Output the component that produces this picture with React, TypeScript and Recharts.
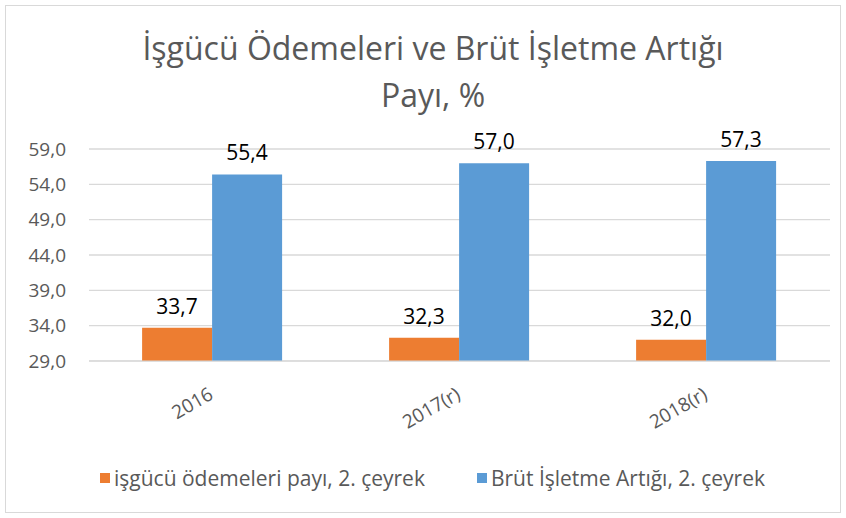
import React from "react";
import {
  BarChart,
  Bar,
  XAxis,
  YAxis,
  CartesianGrid,
  LabelList,
} from "recharts";

const categories = ["2016", "2017(r)", "2018(r)"];
const laborShare = [33.7, 32.3, 32.0];
const surplusShare = [55.4, 57.0, 57.3];
const yTicks = [29, 34, 39, 44, 49, 54, 59];

const SERIES = [
  { key: "labor", name: "işgücü ödemeleri payı, 2. çeyrek", color: "#ED7D31" },
  { key: "surplus", name: "Brüt İşletme Artığı, 2. çeyrek", color: "#5B9BD5" },
];

const FONT = "'Open Sans', 'Noto Sans', sans-serif";
const fmt = (v: number) => v.toFixed(1).replace(".", ",");

const data = categories.map((c, i) => ({
  name: c,
  labor: laborShare[i],
  surplus: surplusShare[i],
}));

function XTick({ x, y, payload }: any) {
  const ax = x + 2;
  const ay = y + 29;
  return (
    <text
      x={ax}
      y={ay}
      transform={`rotate(-30, ${ax}, ${ay})`}
      textAnchor="end"
      fontSize={19}
      fontFamily={FONT}
      fill="#595959"
    >
      {payload.value}
    </text>
  );
}

function LegendBox() {
  return (
    <div
      style={{
        position: "absolute",
        left: 100,
        top: 464,
        display: "flex",
        gap: 52,
        fontFamily: FONT,
        fontSize: 21,
        lineHeight: "28px",
        color: "#595959",
        whiteSpace: "nowrap",
      }}
    >
      {SERIES.map((s) => (
        <div key={s.key} style={{ display: "flex", alignItems: "center" }}>
          <span style={{ width: 10, height: 10, background: s.color, marginRight: 4 }} />
          <span>{s.name}</span>
        </div>
      ))}
    </div>
  );
}

export default function App() {
  return (
    <div
      style={{
        position: "absolute",
        left: 0,
        top: 0,
        width: 846,
        height: 518,
        background: "#fff",
      }}
    >
      <div
        style={{
          position: "absolute",
          left: 5,
          top: 5,
          width: 836,
          height: 508,
          border: "1.5px solid #D9D9D9",
          boxSizing: "border-box",
        }}
      />
      <div
        style={{
          position: "absolute",
          left: 0,
          top: 24,
          width: 866,
          textAlign: "center",
          fontFamily: FONT,
          fontSize: 32,
          lineHeight: "47px",
          color: "#595959",
        }}
      >
        İşgücü Ödemeleri ve Brüt İşletme Artığı
        <br />
        Payı, %
      </div>
      <div style={{ position: "absolute", left: 0, top: 0 }}>
        <BarChart
          width={846}
          height={518}
          data={data}
          margin={{ top: 149, right: 16, left: 0, bottom: 0 }}
          barCategoryGap="21.5%"
          barGap={0}
        >
          <CartesianGrid vertical={false} stroke="#D9D9D9" strokeWidth={1.3} />
          <XAxis
            dataKey="name"
            axisLine={{ stroke: "#D9D9D9" }}
            tickLine={false}
            height={157}
            tick={<XTick />}
            interval={0}
          />
          <YAxis
            domain={[29, 59]}
            ticks={yTicks}
            width={89}
            axisLine={false}
            tickLine={false}
            tickFormatter={fmt}
            tick={{ fontSize: 19, fontFamily: FONT, fill: "#595959", dx: -15 }}
          />
          <Bar dataKey="labor" name={SERIES[0].name} fill={SERIES[0].color} isAnimationActive={false}>
            <LabelList
              dataKey="labor"
              position="top"
              offset={14}
              formatter={(v: any) => fmt(Number(v))}
              style={{ fontSize: 21, fontFamily: FONT, fill: "#000" }}
            />
          </Bar>
          <Bar dataKey="surplus" name={SERIES[1].name} fill={SERIES[1].color} isAnimationActive={false}>
            <LabelList
              dataKey="surplus"
              position="top"
              offset={14}
              formatter={(v: any) => fmt(Number(v))}
              style={{ fontSize: 21, fontFamily: FONT, fill: "#000" }}
            />
          </Bar>
        </BarChart>
      </div>
      <LegendBox />
    </div>
  );
}
